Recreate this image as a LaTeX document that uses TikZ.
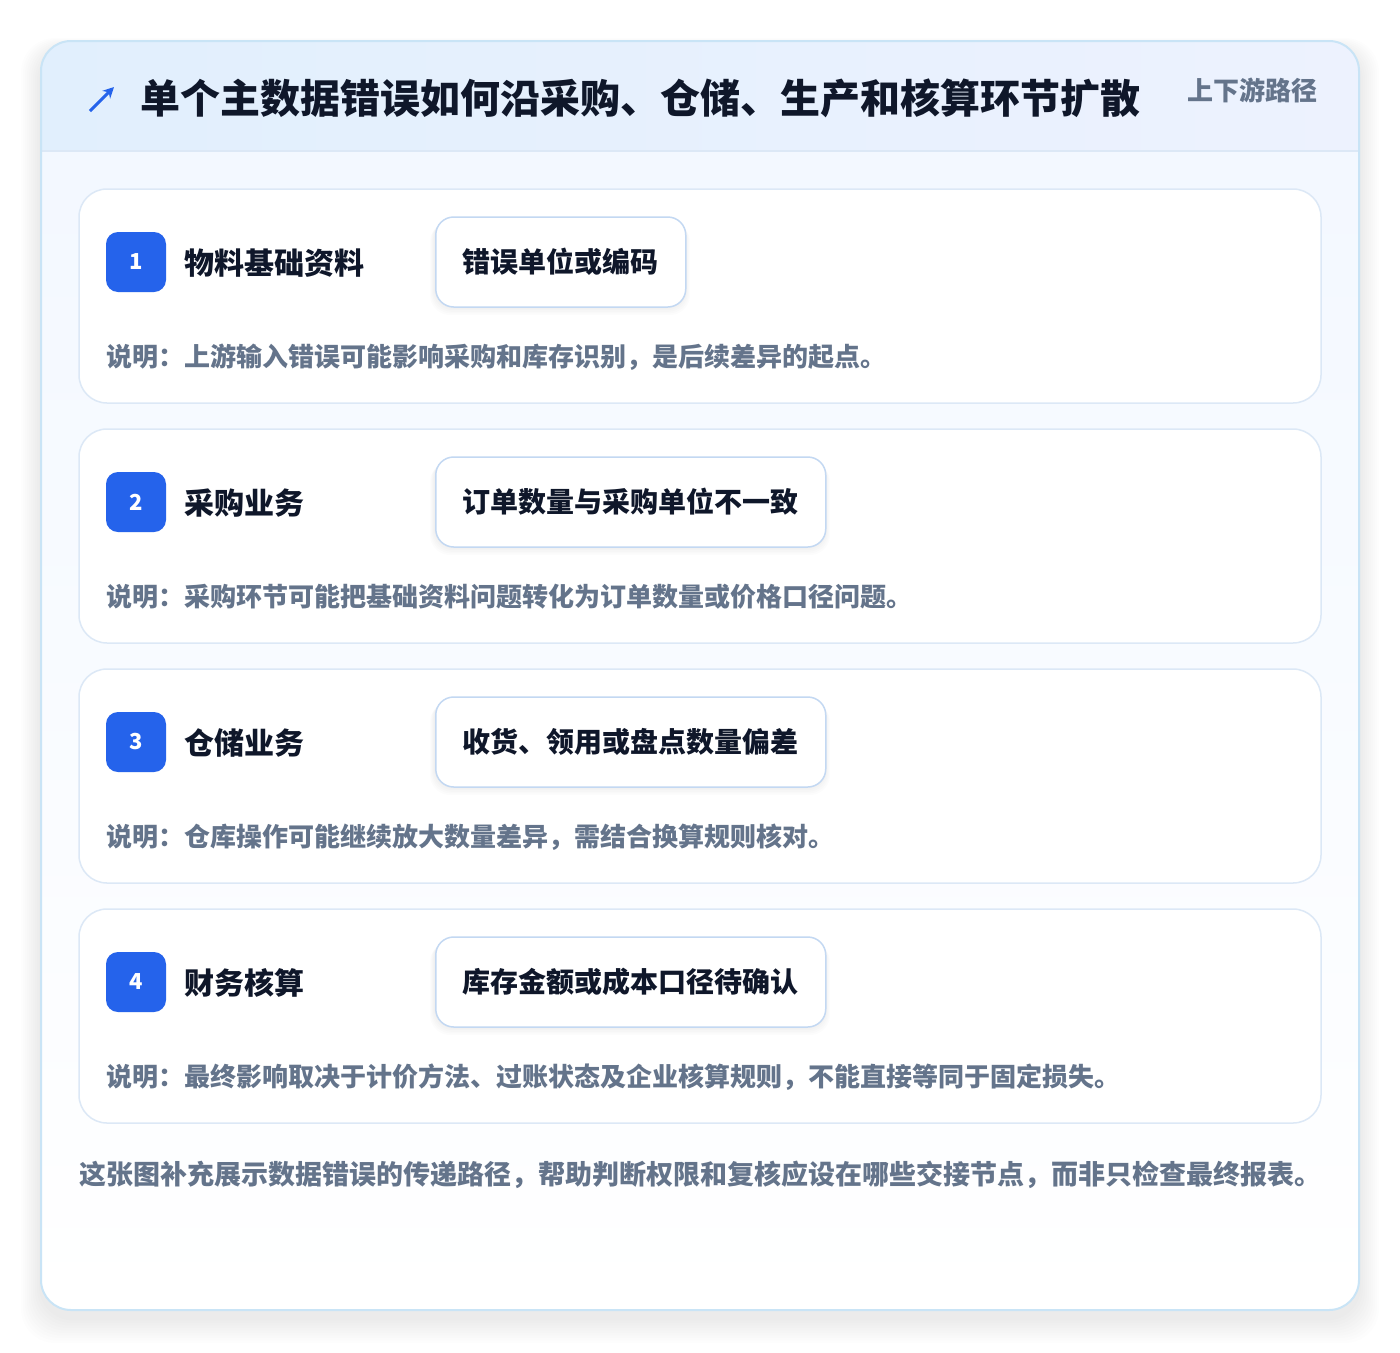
\documentclass[tikz,border=0pt]{standalone}
\usepackage{fontspec}
\setmainfont{Noto Sans CJK SC}
\usetikzlibrary{arrows.meta}
\definecolor{cardline}{HTML}{C9E4F6}
\definecolor{hdrA}{HTML}{E1EFFD}
\definecolor{hdrB}{HTML}{EDF2FE}
\definecolor{bodyA}{HTML}{F3F8FF}
\definecolor{rowline}{HTML}{DCE8F6}
\definecolor{boxline}{HTML}{C3D8F2}
\definecolor{blue}{HTML}{2563EB}
\definecolor{ink}{HTML}{0F172A}
\definecolor{muted}{HTML}{64748B}
\tikzset{
  rowcard/.style={draw=rowline, line width=1.5pt, fill=white, rounded corners=28pt},
  badge/.style={fill=blue, rounded corners=12pt, minimum width=60pt, minimum height=60pt, inner sep=0pt, text=white, font=\fontsize{22}{24}\selectfont\bfseries},
  steplabel/.style={anchor=west, inner sep=0pt, text=ink, font=\fontsize{30}{36}\selectfont\bfseries},
  errbox/.style={draw=boxline, line width=1.5pt, fill=white, rounded corners=18pt, minimum height=90pt, inner sep=0pt, anchor=west, text=ink, font=\fontsize{28}{34}\selectfont\bfseries},
  desc/.style={anchor=west, inner sep=0pt, text=muted, font=\fontsize{26}{30}\selectfont\bfseries},
}
\begin{document}
\begin{tikzpicture}[x=1pt,y=-1pt]
\useasboundingbox (0,0) rectangle (1400,1352);
\fill[white] (0,0) rectangle (1400,1352);
% soft shadow of the main card
\foreach \i in {1,...,10}{
  \fill[black, opacity=0.008, rounded corners=34pt] (41-2*\i,48-\i) rectangle (1359+2*\i,1318+2.5*\i);
}
% main card
\fill[white, rounded corners=30pt] (41,41) rectangle (1359,1310);
\begin{scope}
\clip[rounded corners=30pt] (41,41) rectangle (1359,1310);
\shade[left color=hdrA, right color=hdrB] (41,41) rectangle (1359,151);
\shade[top color=bodyA, bottom color=white] (41,151) rectangle (1359,1310);
\draw[rowline, line width=1.5pt] (41,151) -- (1359,151);
\end{scope}
\draw[cardline, line width=2pt, rounded corners=30pt] (41,41) rectangle (1359,1310);
% header
\coordinate (arrS) at (90,111);
\coordinate (arrE) at (114,87);
\draw[blue, line width=3pt, -{Stealth[length=11pt,width=11pt]}] (arrS) -- (arrE);
\node[anchor=west, inner sep=0pt, text=ink, font=\fontsize{40}{48}\selectfont\bfseries] (title) at (140,98) {单个主数据错误如何沿采购、仓储、生产和核算环节扩散};
\node[anchor=east, inner sep=0pt, text=muted, font=\fontsize{26}{30}\selectfont\bfseries] (tag) at (1318,90) {上下游路径};
% rows
\foreach \n/\lab/\err/\w/\d [count=\k from 0] in {
 1/物料基础资料/错误单位或编码/250/说明：上游输入错误可能影响采购和库存识别，是后续差异的起点。,
 2/采购业务/订单数量与采购单位不一致/390/说明：采购环节可能把基础资料问题转化为订单数量或价格口径问题。,
 3/仓储业务/收货、领用或盘点数量偏差/390/说明：仓库操作可能继续放大数量差异，需结合换算规则核对。,
 4/财务核算/库存金额或成本口径待确认/390/说明：最终影响取决于计价方法、过账状态及企业核算规则，不能直接等同于固定损失。}{
  \pgfmathsetmacro{\y}{189+240*\k}
  \draw[rowcard] (79,\y) rectangle (1321,\y+214);
  % shadow of error box
  \foreach \s in {1,...,5}{
    \fill[black, opacity=0.012, rounded corners=20pt] (435-\s,\y+28+\s) rectangle (435+\w+\s,\y+118+1.6*\s);
  }
  \node[badge] (b\n) at (136,\y+73) {\n};
  \node[steplabel] (l\n) at (184,\y+74) {\lab};
  \node[errbox, minimum width=\w pt] (e\n) at (435,\y+73) {\err};
  \node[desc] (d\n) at (106,\y+168) {\d};
}
\node[anchor=west, inner sep=0pt, text=muted, font=\fontsize{27}{32}\selectfont\bfseries] (foot) at (79,1175) {这张图补充展示数据错误的传递路径，帮助判断权限和复核应设在哪些交接节点，而非只检查最终报表。};
\end{tikzpicture}
\end{document}
